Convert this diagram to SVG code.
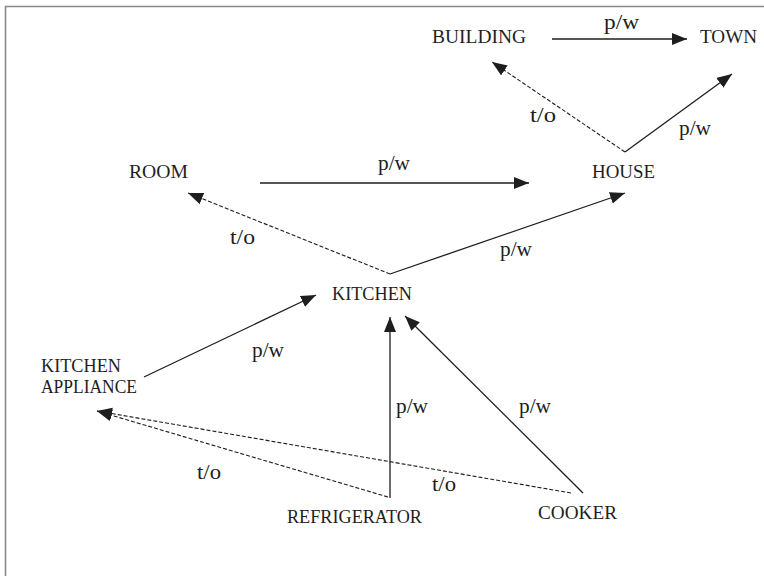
<svg xmlns="http://www.w3.org/2000/svg" width="764" height="576" viewBox="0 0 764 576">
<style>
  text { font-family: "Liberation Serif", "Times New Roman", serif; font-size: 19.5px; fill: #1e1e1e; }
  .lbl { font-size: 20px; }
  .c { fill: none; stroke: #1e1e1e; stroke-width: 1.3; }
  .d { fill: none; stroke: #1e1e1e; stroke-width: 1.1; stroke-dasharray: 4 2; }
</style>
<defs>
  <marker id="ah" markerUnits="userSpaceOnUse" markerWidth="16" markerHeight="13" refX="15" refY="6" orient="auto">
    <path d="M0,0 L15,6 L0,12 z" fill="#1e1e1e"/>
  </marker>
</defs>
<rect width="764" height="576" fill="#fff"/>
<path d="M5.5,580 L5.5,6.5 L770,6.5" fill="none" stroke="#888" stroke-width="1.6"/>

<g id="connectors">
  <line class="c" x1="552" y1="39" x2="687" y2="39" marker-end="url(#ah)"/>
  <line class="d" x1="625" y1="152" x2="492" y2="62" marker-end="url(#ah)"/>
  <line class="c" x1="625" y1="152" x2="732" y2="74" marker-end="url(#ah)"/>
  <line class="c" x1="260" y1="183" x2="529" y2="183" marker-end="url(#ah)"/>
  <line class="d" x1="390" y1="274" x2="188" y2="193" marker-end="url(#ah)"/>
  <line class="c" x1="390" y1="274" x2="625" y2="193" marker-end="url(#ah)"/>
  <line class="c" x1="144" y1="377" x2="316" y2="295" marker-end="url(#ah)"/>
  <line class="c" x1="390" y1="498" x2="390" y2="317" marker-end="url(#ah)"/>
  <line class="c" x1="583" y1="493" x2="405" y2="316" marker-end="url(#ah)"/>
  <line class="d" x1="388" y1="497" x2="97" y2="411" marker-end="url(#ah)"/>
  <line class="d" x1="571" y1="493" x2="97" y2="411" marker-end="url(#ah)"/>
  <text class="lbl" x="604" y="29" textLength="35" lengthAdjust="spacingAndGlyphs">p/w</text>
  <text class="lbl" x="679" y="135" textLength="32" lengthAdjust="spacingAndGlyphs">p/w</text>
  <text class="lbl" x="530" y="122" textLength="26" lengthAdjust="spacingAndGlyphs">t/o</text>
  <text class="lbl" x="378" y="170" textLength="32" lengthAdjust="spacingAndGlyphs">p/w</text>
  <text class="lbl" x="230" y="244" textLength="25" lengthAdjust="spacingAndGlyphs">t/o</text>
  <text class="lbl" x="500" y="256" textLength="32" lengthAdjust="spacingAndGlyphs">p/w</text>
  <text class="lbl" x="252" y="357" textLength="32" lengthAdjust="spacingAndGlyphs">p/w</text>
  <text class="lbl" x="396" y="413" textLength="32" lengthAdjust="spacingAndGlyphs">p/w</text>
  <text class="lbl" x="519" y="413" textLength="32" lengthAdjust="spacingAndGlyphs">p/w</text>
  <text class="lbl" x="197" y="479" textLength="24" lengthAdjust="spacingAndGlyphs">t/o</text>
  <text class="lbl" x="432" y="491" textLength="24" lengthAdjust="spacingAndGlyphs">t/o</text>
</g>

<g id="building"><text x="432" y="43" textLength="94" lengthAdjust="spacingAndGlyphs">BUILDING</text></g>
<g id="town"><text x="700" y="43" textLength="57" lengthAdjust="spacingAndGlyphs">TOWN</text></g>
<g id="house"><text x="592" y="178" textLength="63" lengthAdjust="spacingAndGlyphs">HOUSE</text></g>
<g id="room"><text x="129" y="178" textLength="59" lengthAdjust="spacingAndGlyphs">ROOM</text></g>
<g id="kitchen"><text x="332" y="300" textLength="80" lengthAdjust="spacingAndGlyphs">KITCHEN</text></g>
<g id="kitchen-appliance">
  <text x="41" y="372" textLength="80" lengthAdjust="spacingAndGlyphs">KITCHEN</text>
  <text x="41" y="393" textLength="96" lengthAdjust="spacingAndGlyphs">APPLIANCE</text>
</g>
<g id="refrigerator"><text x="287" y="523" textLength="135" lengthAdjust="spacingAndGlyphs">REFRIGERATOR</text></g>
<g id="cooker"><text x="538" y="519" textLength="79" lengthAdjust="spacingAndGlyphs">COOKER</text></g>
</svg>
